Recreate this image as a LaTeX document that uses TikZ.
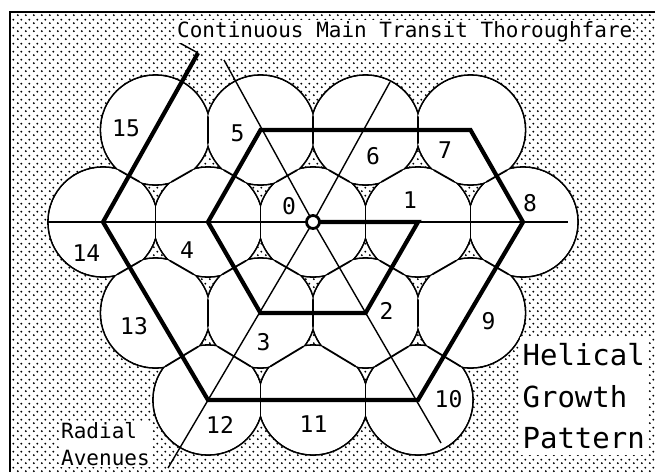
\documentclass[tikz,border=0pt]{standalone}
\usepackage{fontspec}
\setmonofont{DejaVu Sans Mono}
\usetikzlibrary{calc, patterns}

\pgfdeclarepatternformonly{stipple}{\pgfpointorigin}{\pgfqpoint{8pt}{8pt}}{\pgfqpoint{8pt}{8pt}}{
  \pgfpathcircle{\pgfqpoint{2pt}{2pt}}{1.15pt}
  \pgfpathcircle{\pgfqpoint{6pt}{6pt}}{1.15pt}
  \pgfusepath{fill}
}

\begin{document}
\begin{tikzpicture}[
    x=1pt, y=-1pt,
    rim/.style={draw=black, line width=1.8pt},
    avenue/.style={draw=black, line width=1.4pt},
    thoroughfare/.style={draw=black, line width=4.2pt},
    num/.style={font=\ttfamily\fontsize{23}{23}\selectfont, inner sep=0pt},
    tag/.style={fill=white, inner sep=1pt, align=left}
  ]
  \def\rad{55pt}
  \useasboundingbox (0,0) rectangle (655,472);
  \fill[pattern=stipple] (10,12) rectangle (655,472);
  \draw[line width=1.5pt] (10,472) -- (10,12) -- (655,12);

  \foreach \n/\px/\py in {15/155.5/130, 5/260.5/130, 6/365.5/130, 7/470.5/130,
      14/103/222, 4/208/222, 0/313/222, 1/418/222, 8/523/222,
      13/155.5/313, 3/260.5/313, 2/365.5/313, 9/470.5/313,
      12/208/400, 11/313/400, 10/418/400}
    \coordinate (c\n) at (\px,\py);

  \foreach \n in {0,...,15}
    \draw[rim, fill=white] (c\n) circle[radius=\rad];
  \foreach \n in {0,...,15}
    \fill[white] (c\n) circle[radius=\rad-0.9pt];

  \foreach \a/\b in {15/5, 5/6, 6/7, 15/14, 15/4, 5/4, 5/0, 6/0, 6/1, 7/1, 7/8,
      14/4, 4/0, 0/1, 1/8, 14/13, 4/13, 4/3, 0/3, 0/2, 1/2, 1/9, 8/9,
      13/3, 3/2, 2/9, 13/12, 3/12, 3/11, 2/11, 2/10, 9/10, 12/11, 11/10}{
    \begin{scope}
      \clip (c\a) circle[radius=\rad];
      \clip (c\b) circle[radius=\rad];
      \draw[rim] ($(c\a)!0.5!(c\b)!40pt!90:(c\b)$) -- ($(c\a)!0.5!(c\b)!40pt!-90:(c\b)$);
    \end{scope}
  }

  \coordinate (hw) at (47,222);
  \coordinate (he) at (568,222);
  \coordinate (ne) at (390,82);
  \coordinate (nw) at (224,60);
  \coordinate (sw) at (168,468);
  \coordinate (se) at (441,443);
  \coordinate (tend) at (198,53);
  \coordinate (lead) at (178,42);
  \draw[avenue] (hw) -- (he);
  \draw[avenue] (nw) -- (c0) -- (se);
  \draw[avenue] (ne) -- (c0) -- (sw);
  \draw[avenue] (lead) -- (tend);

  \draw[thoroughfare] (c0) -- (c1) -- (c2) -- (c3) -- (c4) -- (c5) -- (c7)
    -- (c8) -- (c10) -- (c12) -- (c14) -- (tend);
  \node[draw, circle, line width=2.8pt, fill=white, minimum size=13pt, inner sep=0pt] (hub) at (c0) {};

  \node[num] (n0) at (289,206) {0};
  \node[num] (n1) at (410,200) {1};
  \node[num] (n2) at (386.5,311) {2};
  \node[num] (n3) at (263.5,342) {3};
  \node[num] (n4) at (187,250) {4};
  \node[num] (n5) at (237.5,133.5) {5};
  \node[num] (n6) at (373,156) {6};
  \node[num] (n7) at (445,150) {7};
  \node[num] (n8) at (530,203.5) {8};
  \node[num] (n9) at (488.5,321) {9};
  \node[num] (n10) at (448.5,399) {10};
  \node[num] (n11) at (313.5,424) {11};
  \node[num] (n12) at (220,425) {12};
  \node[num] (n13) at (134,326) {13};
  \node[num] (n14) at (86.5,253.5) {14};
  \node[num] (n15) at (126,128.5) {15};

  \node[tag, anchor=base west, font=\ttfamily\fontsize{21}{21}\selectfont] (title) at (176,37)
    {Continuous Main Transit Thoroughfare};
  \node[tag, anchor=north west, font=\ttfamily\fontsize{21}{27}\selectfont] (avenues) at (60,421)
    {Radial\\Avenues};
  \node[anchor=north west, fill=white, minimum width=127pt, minimum height=118pt, inner sep=2pt,
    align=left, font=\ttfamily\fontsize{29}{41.5}\selectfont] (motto) at (520,337)
    {Helical\\Growth\\Pattern};
\end{tikzpicture}
\end{document}
